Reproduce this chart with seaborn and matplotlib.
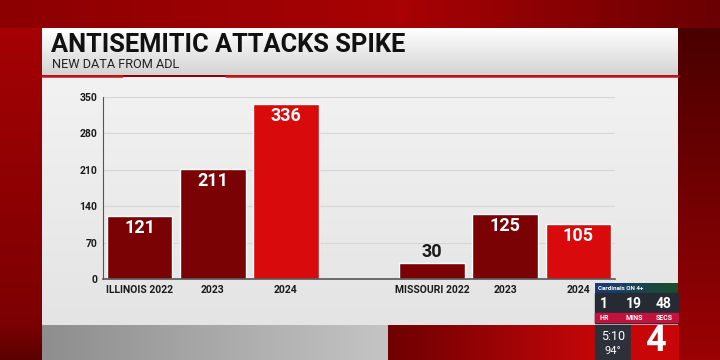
import numpy as np
import pandas as pd
import matplotlib

matplotlib.use("Agg")
import matplotlib.pyplot as plt
import seaborn as sns


# data read from the broadcast graphic
YEARS = ["2022", "2023", "2024"]
ILLINOIS = [121, 211, 336]
MISSOURI = [30, 125, 105]
Y_TICKS = [0, 70, 140, 210, 280, 350]

TITLE = "ANTISEMITIC ATTACKS SPIKE"
SUBTITLE = "NEW DATA FROM ADL"

COLORS = {
    "2022": "#7a0204",
    "2023": "#7a0204",
    "2024": "#d80a0c",
    "text": "#1a1a1a",
    "grid": "#d6d6d6",
    "axis": "#555555",
}

FONTS = ["Liberation Sans Narrow", "Roboto", "DejaVu Sans"]
W, H = 720, 360


def gradient(ax, x0, x1, y0, y1, c0, c1, horizontal=True):
    """Paint a two-colour gradient into the pixel-space background axis."""
    a = np.array(matplotlib.colors.to_rgb(c0))
    b = np.array(matplotlib.colors.to_rgb(c1))
    t = np.linspace(0, 1, 64)
    img = a[None, :] * (1 - t[:, None]) + b[None, :] * t[:, None]
    img = img[None, :, :] if horizontal else img[:, None, :]
    ax.imshow(img, extent=(x0, x1, y1, y0), aspect="auto", interpolation="bilinear", zorder=1)


def draw_backdrop(fig):
    bg = fig.add_axes([0, 0, 1, 1])
    bg.set_xlim(0, W)
    bg.set_ylim(H, 0)
    bg.axis("off")

    # red studio wall around the panel
    gradient(bg, 0, 400, 0, 28, "#8c0002", "#a80204")
    gradient(bg, 400, 720, 0, 28, "#a80204", "#6a0002")
    gradient(bg, 0, 42, 28, 325, "#a40204", "#7c0002", horizontal=False)
    gradient(bg, 678, 720, 28, 360, "#4a0000", "#9a0204", horizontal=False)
    gradient(bg, 0, 42, 325, 360, "#7c0002", "#5a0000", horizontal=False)
    gradient(bg, 42, 388, 325, 360, "#8e8e8e", "#c4c4c4")
    gradient(bg, 388, 595, 325, 360, "#6e0002", "#c40608")

    # panel: title band and chart area
    gradient(bg, 42, 678, 28, 75, "#ffffff", "#d4d4d4", horizontal=False)
    gradient(bg, 42, 678, 77, 325, "#f2f2f2", "#e4e4e4", horizontal=False)
    bg.plot([42, 122], [75.5, 75.5], color="#c4161c", lw=1.8, zorder=2)
    bg.plot([226, 678], [75.5, 75.5], color="#c4161c", lw=1.8, zorder=2)

    bg.text(51, 45, TITLE, family=FONTS, weight="bold", fontsize=18.3,
            color="#111111", va="center", ha="left", zorder=3)
    bg.text(52, 64, SUBTITLE, family=FONTS, fontsize=9.2,
            color="#222222", va="center", ha="left", zorder=3)

    # station bug in the lower right corner
    gradient(bg, 595, 678, 283, 293, "#1d3a7a", "#1a4e2a")
    bg.add_patch(plt.Rectangle((595, 293), 83, 30, color="#262a33", zorder=2))
    bg.add_patch(plt.Rectangle((595, 313), 83, 9, color="#c4123e", zorder=3))
    for x, num, unit in [(604, "1", "HR"), (634, "19", "MINS"), (664, "48", "SECS")]:
        bg.text(x, 304, num, color="white", weight="bold", family=FONTS,
                fontsize=10, ha="center", va="center", zorder=4)
        bg.text(x, 318, unit, color="white", weight="bold", family=FONTS,
                fontsize=5, ha="center", va="center", zorder=4)
    bg.text(598, 288, "Cardinals ON 4+", color="white", weight="bold",
            family=FONTS, fontsize=4.5, ha="left", va="center", zorder=4)
    bg.add_patch(plt.Rectangle((595, 325), 36, 35, color="#2c3038", zorder=2))
    bg.add_patch(plt.Rectangle((631, 325), 47, 35, color="#c80608", zorder=2))
    bg.text(613, 337, "5:10", color="white", family=FONTS, fontsize=9,
            ha="center", va="center", zorder=4)
    bg.text(613, 351, "94°", color="white", family=FONTS, fontsize=8,
            ha="center", va="center", zorder=4)
    bg.text(655, 341, "4", color="white", weight="bold", family=FONTS,
            fontsize=26, ha="center", va="center", zorder=4)


def build_frame():
    keys = [f"IL {y}" for y in YEARS] + [f"MO {y}" for y in YEARS]
    return pd.DataFrame({
        "key": keys,
        "year": YEARS * 2,
        "count": ILLINOIS + MISSOURI,
    })


def plot_chart(fig, df):
    ax = fig.add_axes([103 / W, 1 - 279 / H, 512 / W, 182 / H])
    ax.set_facecolor("none")

    order = list(df["key"][:3]) + ["gap"] + list(df["key"][3:])
    sns.barplot(
        data=df, x="key", y="count", hue="year", order=order,
        palette=COLORS, dodge=False, width=0.9, legend=False,
        saturation=1, ax=ax, zorder=3,
    )

    for container in ax.containers:
        for bar in container:
            value = bar.get_height()
            if np.isnan(value) or value == 0:
                continue
            top = bar.get_y() + value
            cx = bar.get_x() + bar.get_width() / 2
            if value < 60:
                ax.annotate(f"{int(value)}", (cx, top), xytext=(0, 11),
                            textcoords="offset pixels", ha="center", va="center",
                            color=COLORS["text"], weight="bold", fontsize=13,
                            family=FONTS)
            else:
                ax.annotate(f"{int(value)}", (cx, top), xytext=(0, -12),
                            textcoords="offset pixels", ha="center", va="center",
                            color="white", weight="bold", fontsize=13,
                            family=FONTS)

    ax.set_xlim(-0.5, 6.5)
    ax.set_ylim(0, 350)
    ax.set_yticks(Y_TICKS)
    ax.set_yticklabels([str(t) for t in Y_TICKS], family=FONTS, weight="bold",
                       fontsize=7.5, color=COLORS["text"])
    ax.set_xticks(range(7))
    labels = ["ILLINOIS 2022", "2023", "2024", "", "MISSOURI 2022", "2023", "2024"]
    ax.set_xticklabels(labels, family=FONTS, weight="bold", fontsize=7.5,
                       color=COLORS["text"])
    ax.tick_params(axis="both", length=0, pad=4)
    ax.set_xlabel("")
    ax.set_ylabel("")

    ax.grid(axis="y", color=COLORS["grid"], lw=0.8, zorder=0)
    ax.grid(axis="x", visible=False)
    for side in ["top", "right"]:
        ax.spines[side].set_visible(False)
    ax.spines["left"].set_color(COLORS["axis"])
    ax.spines["left"].set_linewidth(0.8)
    ax.spines["bottom"].set_color(COLORS["axis"])
    ax.spines["bottom"].set_linewidth(1.2)
    ax.spines["bottom"].set_zorder(4)
    return ax


def main():
    sns.set_theme(style="white")
    plt.rcParams["font.family"] = FONTS

    fig = plt.figure(figsize=(W / 100, H / 100), dpi=100)
    fig.patch.set_facecolor("#8a0002")
    draw_backdrop(fig)
    plot_chart(fig, build_frame())
    fig.savefig("out.png", dpi=100)
    plt.close(fig)


if __name__ == "__main__":
    main()
